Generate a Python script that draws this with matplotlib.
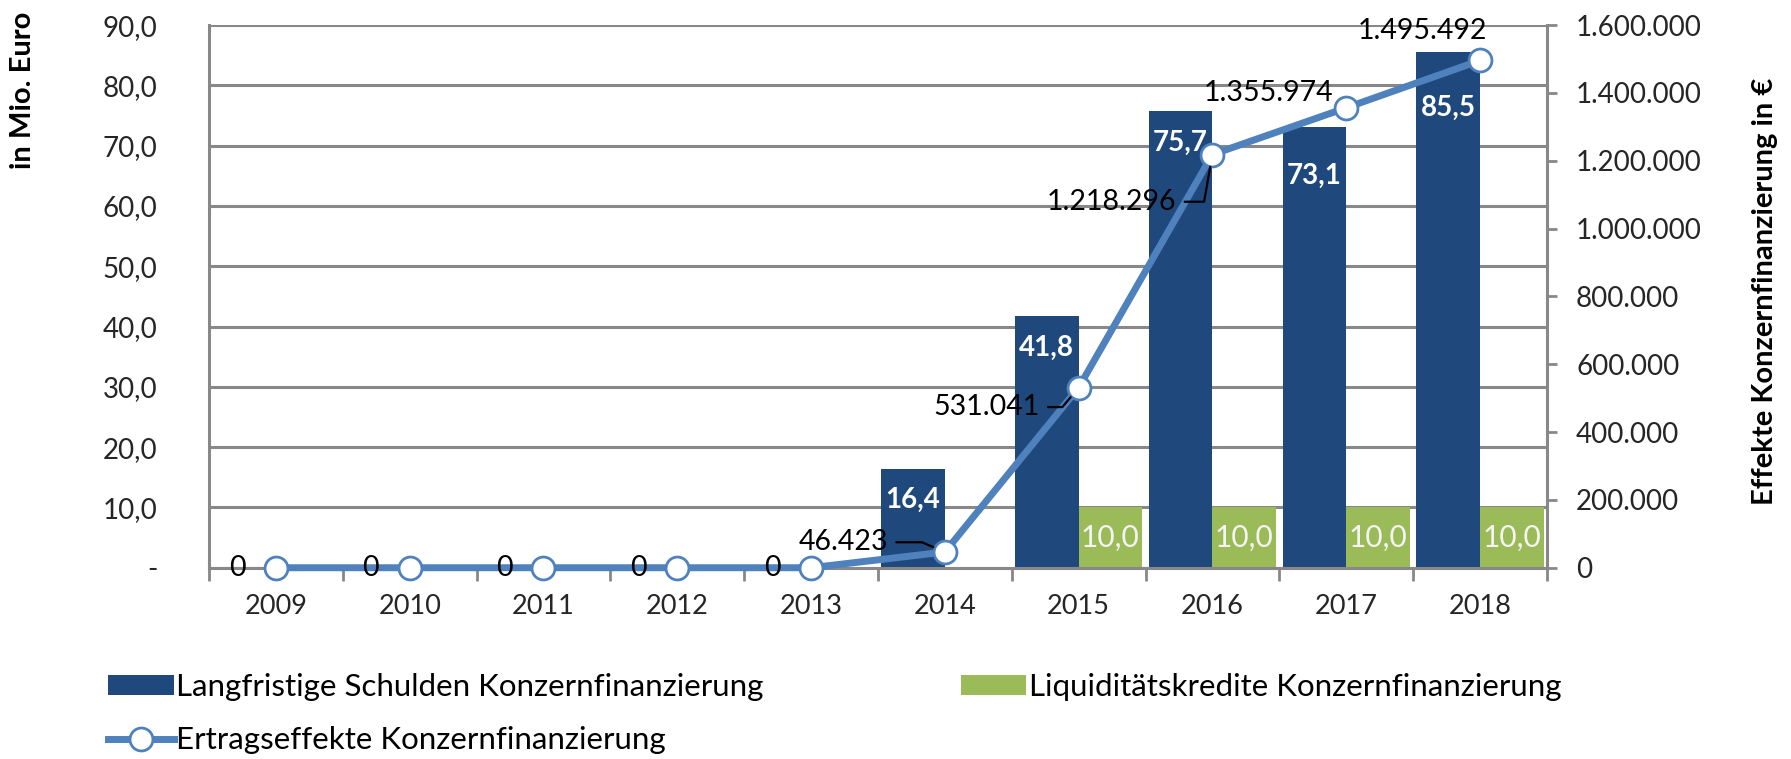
import matplotlib.pyplot as plt
import numpy as np
from matplotlib.ticker import FuncFormatter, MultipleLocator

plt.rcParams['font.family'] = ['Lato', 'DejaVu Sans']

years = ['2009', '2010', '2011', '2012', '2013', '2014', '2015', '2016', '2017', '2018']
long_debt = [0, 0, 0, 0, 0, 16.4, 41.8, 75.7, 73.1, 85.5]
liquidity = [0, 0, 0, 0, 0, 0, 10.0, 10.0, 10.0, 10.0]
effects = [0, 0, 0, 0, 0, 46423, 531041, 1218296, 1355974, 1495492]

# line labels: offset (points) of the label's right edge; leader angle at the marker (None = no leader)
eff_offsets = [(-22, 0), (-22, 0), (-22, 0), (-22, 0), (-22, 0),
               (-41, 7), (-28, -14), (-26, -34), (-9, 11), (5, 21)]
eff_leader = [None] * 5 + [-23, 50, 80, None, None]
debt_offsets = [-22, -23.5, -22.5, -35, -40]

navy = '#1f497d'
green = '#9bbb59'
lblue = '#4f81bd'
grid = '#888888'
txt = '#262626'

def de_num(v, dec):
    s = f"{v:,.{dec}f}"
    return s.replace(',', 'X').replace('.', ',').replace('X', '.')

fig = plt.figure(figsize=(17.91, 7.59), dpi=100)
ax = fig.add_axes([0.1167, 0.252, 0.747, 0.715])
ax2 = ax.twinx()

x = np.arange(len(years))
w = 0.475
b1 = ax.bar(x - w / 2, long_debt, w, color=navy, label='Langfristige Schulden Konzernfinanzierung', zorder=2)
b2 = ax.bar(x + w / 2, liquidity, w, color=green, label='Liquiditätskredite Konzernfinanzierung', zorder=2)

ax.set_xlim(-0.5, len(years) - 0.5)
ax.set_ylim(0, 90)
ax.yaxis.set_major_locator(MultipleLocator(10))
ax.yaxis.set_major_formatter(FuncFormatter(lambda v, p: '-' if v == 0 else de_num(v, 1)))
ax.grid(axis='y', color=grid, linewidth=2.2, zorder=0)
ax.set_axisbelow(True)
ax.tick_params(axis='y', length=0, labelsize=20, labelcolor=txt, pad=37)
ax.set_xticks(x)
ax.set_xticklabels(years)
ax.set_xticks(np.arange(-0.5, len(years)), minor=True)
ax.tick_params(axis='x', which='major', length=0, labelsize=19.5, labelcolor=txt, pad=19)
ax.tick_params(axis='x', which='minor', length=9, width=2, color=grid)
for s in ['top', 'right']:
    ax.spines[s].set_visible(False)
for s in ['left', 'bottom']:
    ax.spines[s].set_color(grid)
    ax.spines[s].set_linewidth(2.2)

ln, = ax2.plot(x, effects, color=lblue, linewidth=5, marker='o', markersize=16.5,
               markerfacecolor='white', markeredgecolor=lblue, markeredgewidth=2,
               label='Ertragseffekte Konzernfinanzierung', clip_on=False, zorder=3)
ax2.set_ylim(0, 1600000)
ax2.yaxis.set_major_locator(MultipleLocator(200000))
ax2.yaxis.set_major_formatter(FuncFormatter(lambda v, p: de_num(v, 0)))
ax2.tick_params(axis='y', length=7, width=2, color=grid, labelsize=20, labelcolor=txt, pad=14)
for s in ['top', 'left', 'bottom']:
    ax2.spines[s].set_visible(False)
ax2.spines['right'].set_color(grid)
ax2.spines['right'].set_linewidth(2.2)

# bar labels
j = 0
for xi, v in zip(x, long_debt):
    if v > 0:
        ax.annotate(de_num(v, 1), (xi - w / 2, v), xytext=(0, debt_offsets[j]),
                    textcoords='offset points', ha='center', va='center',
                    color='white', fontsize=20, fontweight='bold', zorder=4)
        j += 1
for xi, v in zip(x, liquidity):
    if v > 0:
        ax.annotate(de_num(v, 1), (xi + w / 2, v / 2), ha='center', va='center',
                    color='#f4f4f4', fontsize=21.5, zorder=4)

# line labels
for xi, v, (dx, dy), lead in zip(x, effects, eff_offsets, eff_leader):
    ap = None
    if lead is not None:
        ap = dict(arrowstyle='-', color='black', lw=1.6, shrinkA=4, shrinkB=9,
                  relpos=(1, 0.5), connectionstyle=f'angle,angleA=0,angleB={lead},rad=0')
    ax2.annotate(de_num(v, 0), (xi, v), xytext=(dx, dy), textcoords='offset points',
                 ha='right', va='center', color='black', fontsize=20.5,
                 arrowprops=ap, zorder=5, annotation_clip=False)

fig.text(0.0128, 0.881, 'in Mio. Euro', rotation=90, ha='center', va='center',
         fontsize=21, fontweight='bold', color='black')
fig.text(0.9853, 0.616, 'Effekte Konzernfinanzierung in €', rotation=90, ha='center',
         va='center', fontsize=21, fontweight='bold', color='black')

fig.legend([b1, ln, b2], [b1.get_label(), ln.get_label(), b2.get_label()],
           loc='upper left', bbox_to_anchor=(0.0605, 0.113), ncol=2, frameon=False,
           fontsize=22.5, handlelength=2.1, handleheight=0.6, handletextpad=0.08,
           columnspacing=6.3, labelspacing=0.8, borderpad=0, borderaxespad=0)

fig.savefig('out.png', dpi=100)
